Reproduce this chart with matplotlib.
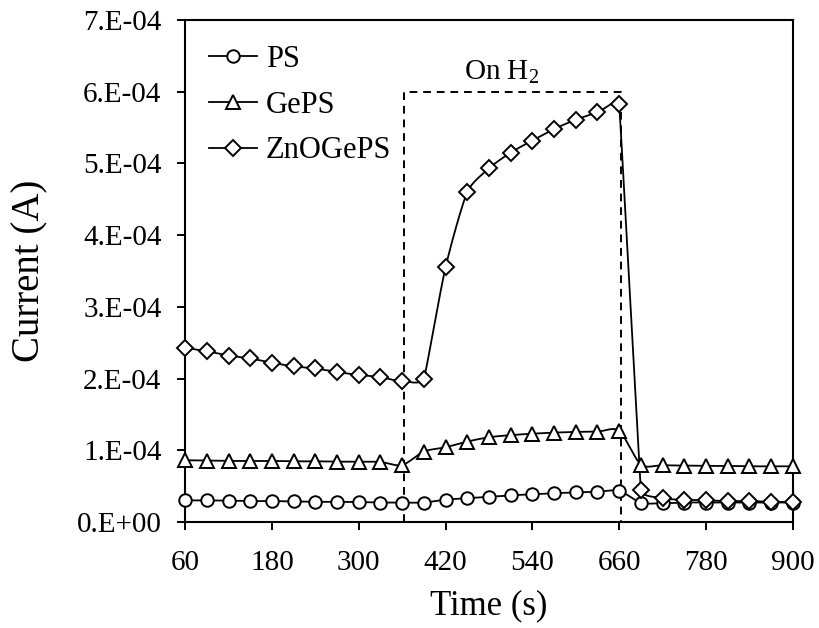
import numpy as np
import matplotlib
matplotlib.use("Agg")
import matplotlib.pyplot as plt

plt.rcParams['font.family'] = ['Liberation Serif', 'DejaVu Serif']
plt.rcParams['mathtext.fontset'] = 'custom'
plt.rcParams['mathtext.rm'] = 'Liberation Serif'
plt.rcParams['mathtext.default'] = 'regular'

time_s = [60, 90, 120, 150, 180, 210, 240, 270, 300, 330, 360, 390, 420, 450, 480,
          510, 540, 570, 600, 630, 660, 690, 720, 750, 780, 810, 840, 870, 900]

ps = [0.300, 0.300, 0.295, 0.290, 0.290, 0.285, 0.280, 0.280, 0.275, 0.270, 0.270,
      0.270, 0.310, 0.330, 0.350, 0.370, 0.385, 0.400, 0.410, 0.420, 0.430,
      0.270, 0.260, 0.270, 0.270, 0.270, 0.270, 0.270, 0.270]
geps = [0.860, 0.855, 0.850, 0.850, 0.850, 0.845, 0.845, 0.840, 0.840, 0.835, 0.795,
        0.980, 1.040, 1.120, 1.180, 1.210, 1.230, 1.245, 1.255, 1.260, 1.270,
        0.800, 0.790, 0.785, 0.780, 0.780, 0.775, 0.775, 0.775]
znogeps = [2.430, 2.380, 2.320, 2.280, 2.220, 2.170, 2.140, 2.090, 2.050, 2.020, 1.960,
           2.000, 3.550, 4.600, 4.930, 5.150, 5.320, 5.480, 5.610, 5.715, 5.830,
           0.450, 0.330, 0.310, 0.300, 0.290, 0.290, 0.280, 0.280]
scale = 1e-4

series_names = ['PS', 'GePS', 'ZnOGePS']
markers = ['o', '^', 'D']
msizes = [9, 10, 8]

x_ticks = [60, 180, 300, 420, 540, 660, 780, 900]
y_ticks = [0, 1e-4, 2e-4, 3e-4, 4e-4, 5e-4, 6e-4, 7e-4]
y_tick_labels = ['0.E+00', '1.E-04', '2.E-04', '3.E-04', '4.E-04', '5.E-04', '6.E-04', '7.E-04']

h2_on, h2_off, h2_level = 363, 663, 6e-4


def smooth(ax, x, y, n=30):
    """Smoothed line (Bezier, Catmull-Rom tangents with limited length) in display space."""
    P = ax.transData.transform(np.column_stack([x, y]))
    N = len(P)
    T = np.zeros_like(P)
    for i in range(N):
        a = P[max(i - 1, 0)]
        b = P[min(i + 1, N - 1)]
        m = (b - a) / 2.0
        lens = []
        if i > 0:
            lens.append(np.linalg.norm(P[i] - P[i - 1]))
        if i < N - 1:
            lens.append(np.linalg.norm(P[i + 1] - P[i]))
        cap = min(lens)
        L = np.linalg.norm(m)
        if L > cap and L > 0:
            m = m * cap / L
        T[i] = m
    out = []
    t = np.linspace(0, 1, n, endpoint=False)[:, None]
    for i in range(N - 1):
        p0 = P[i]
        p3 = P[i + 1]
        p1 = p0 + T[i] / 3.0
        p2 = p3 - T[i + 1] / 3.0
        c = ((1 - t) ** 3) * p0 + 3 * ((1 - t) ** 2) * t * p1 + 3 * (1 - t) * t ** 2 * p2 + t ** 3 * p3
        out.append(c)
    out.append(P[-1][None, :])
    out = np.vstack(out)
    d = ax.transData.inverted().transform(out)
    return d[:, 0], d[:, 1]


fig = plt.figure(figsize=(8.19, 6.28), dpi=100)
ax = fig.add_axes([0.226, 0.169, 0.742, 0.799])

xr = (60, 900)
yr = (0, 7e-4)
ax.set_xlim(*xr)
ax.set_ylim(*yr)

for name, vals, mk, ms in zip(series_names, [ps, geps, znogeps], markers, msizes):
    yv = [v * scale for v in vals]
    sx, sy = smooth(ax, time_s, yv)
    ax.plot(sx, sy, color='black', lw=1.3, zorder=3)
    ax.plot(time_s, yv, linestyle='none', marker=mk, ms=ms, mfc='white',
            mec='black', mew=1.4, zorder=4, clip_on=False)
    ax.plot([], [], color='black', lw=1.3, marker=mk, ms=ms, mfc='white',
            mec='black', mew=1.4, label=name)

# H2 exposure box
ax.plot([h2_on, h2_on, h2_off, h2_off], [0, h2_level, h2_level, 0],
        color='black', lw=1.4, ls=(0, (4, 3)), zorder=2)
ax.text(497, h2_level + 0.08e-4, r'On H$_2$', ha='center',
        va='bottom', fontsize=21)

ax.set_xticks(x_ticks)
ax.set_xticklabels([str(v) for v in x_ticks])
ax.set_yticks(y_ticks)
ax.set_yticklabels(y_tick_labels)
ax.tick_params(direction='out', length=6, width=1.4, labelsize=21)
ax.tick_params(axis='x', pad=14)
ax.tick_params(axis='y', pad=11)
for s in ax.spines.values():
    s.set_linewidth(1.5)

ax.set_xlabel('Time (s)', fontsize=25, labelpad=10)
ax.set_ylabel('Current (A)', fontsize=28, labelpad=20)

leg = ax.legend(loc='upper left', frameon=False, fontsize=22, handlelength=1.55,
                handletextpad=0.3, labelspacing=0.55, borderaxespad=0.0,
                bbox_to_anchor=(0.02, 0.975))

fig.savefig('out.png', dpi=100)
